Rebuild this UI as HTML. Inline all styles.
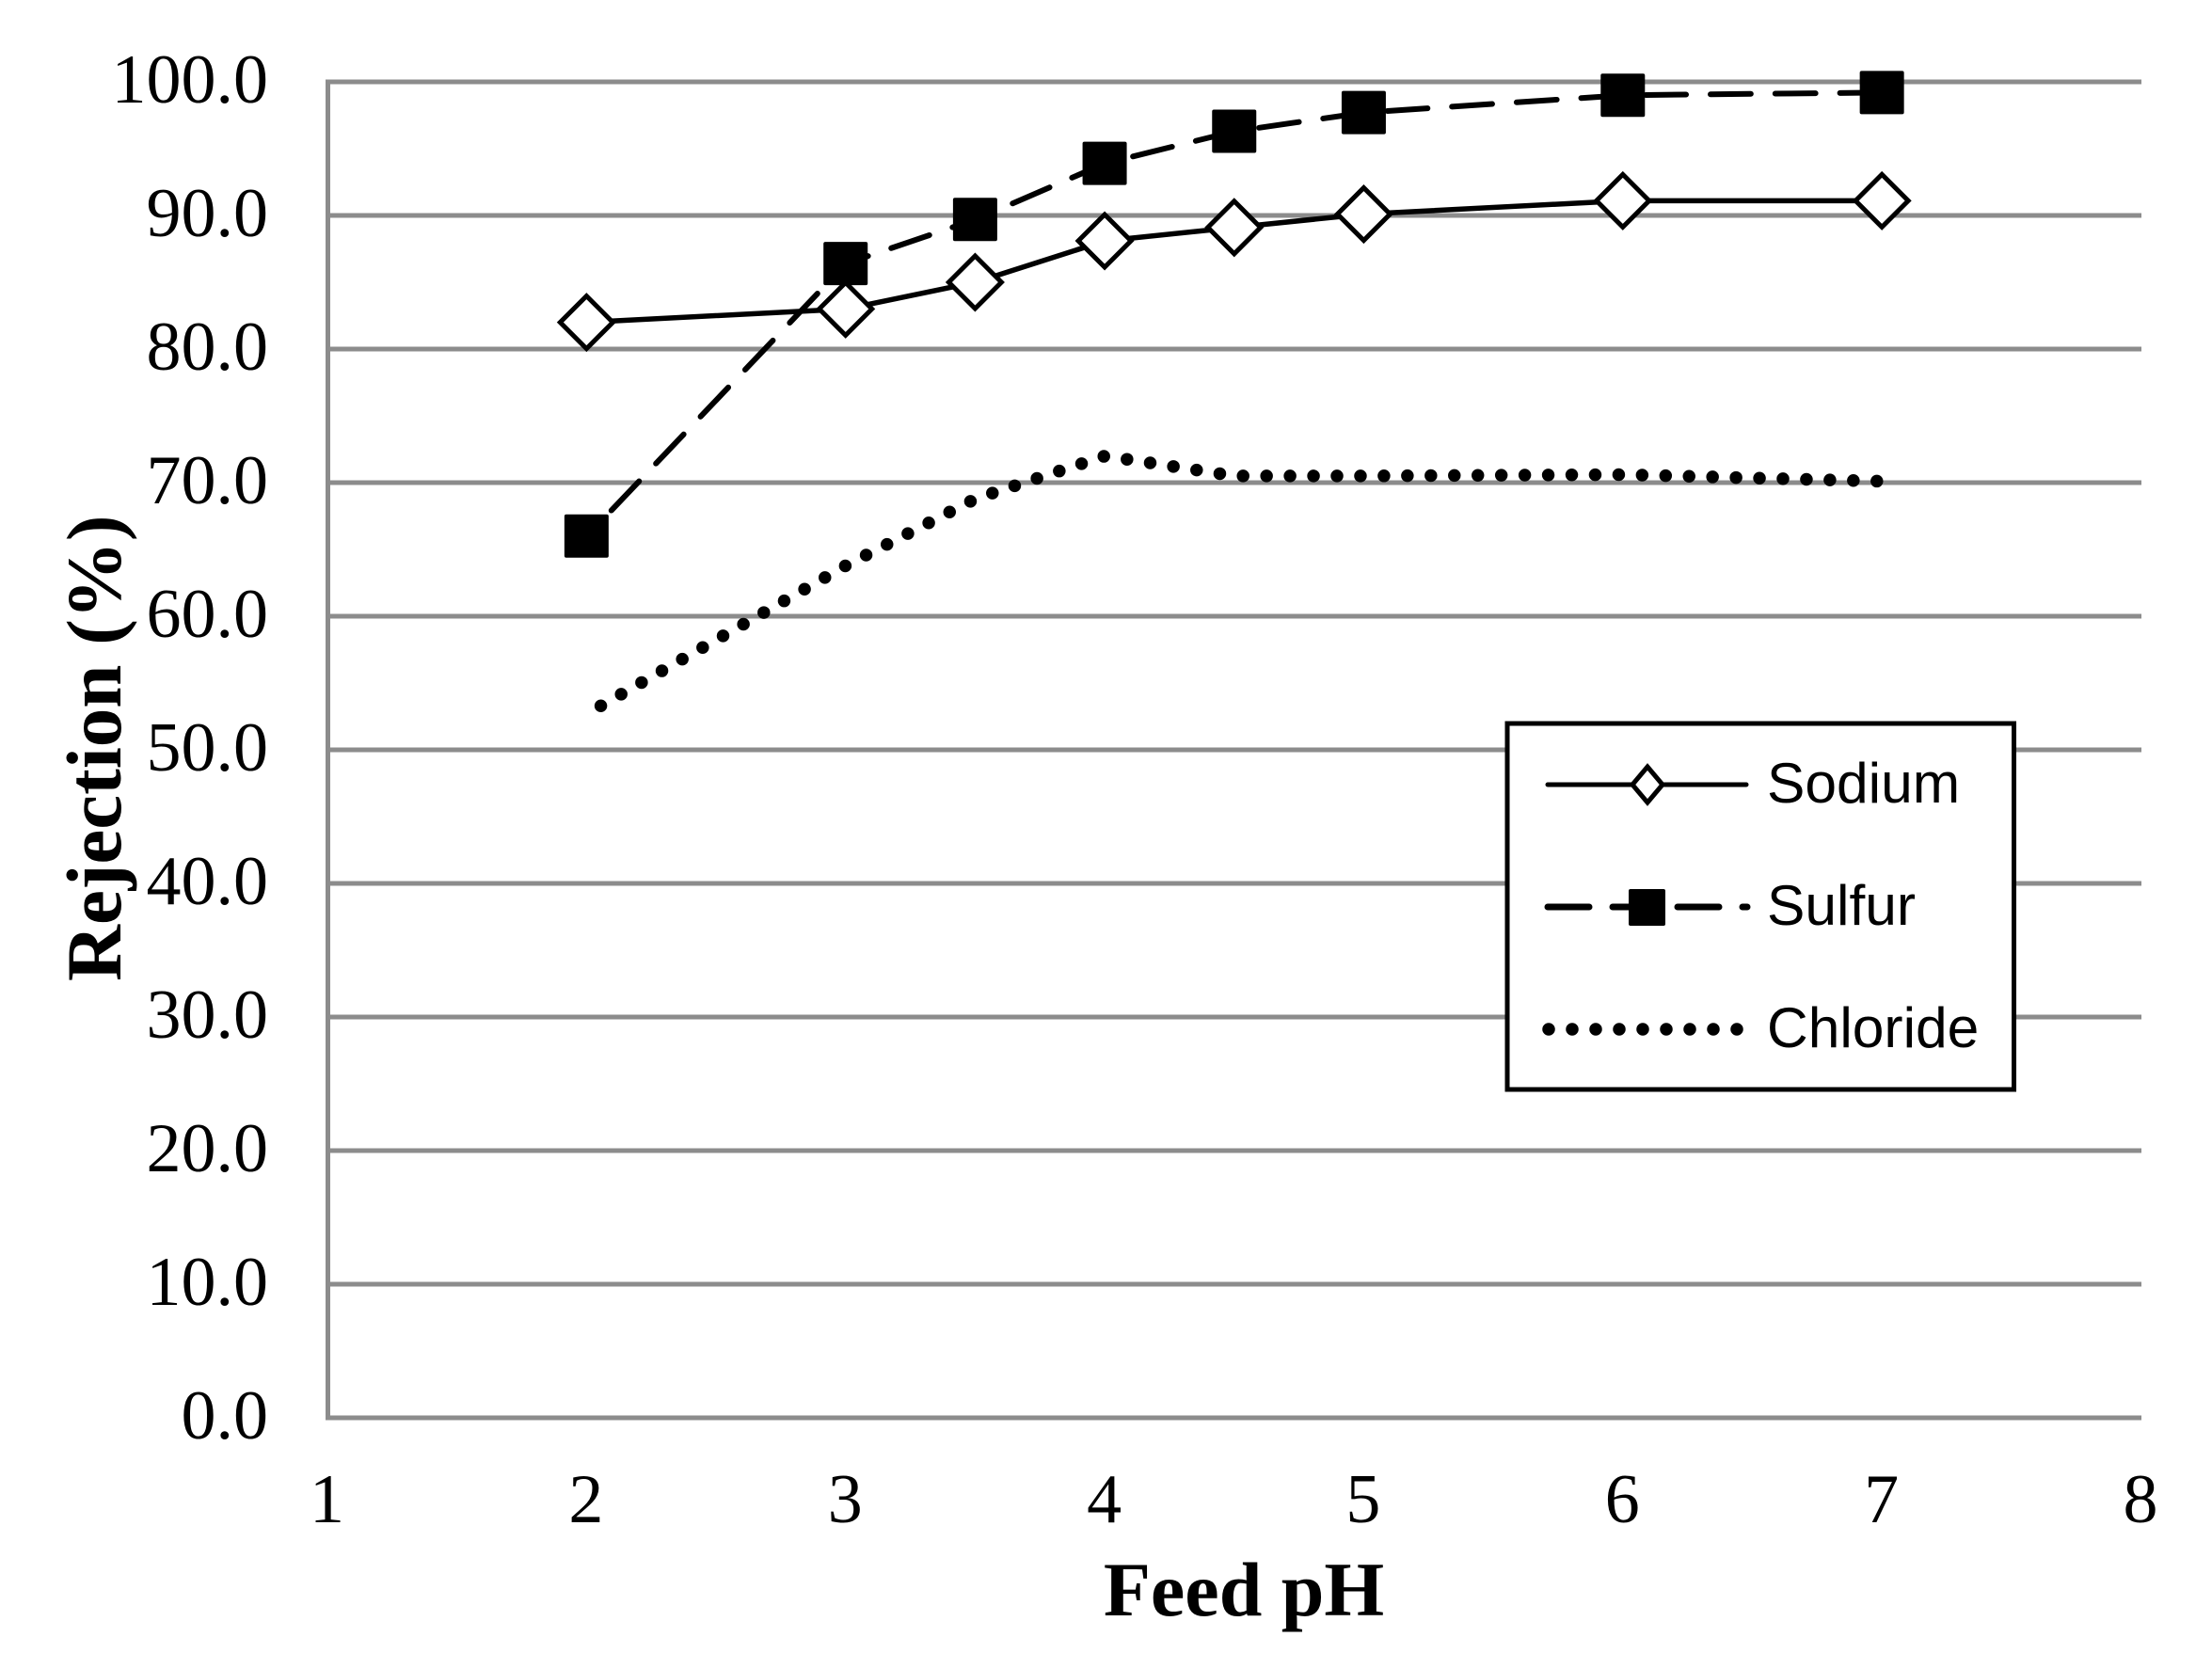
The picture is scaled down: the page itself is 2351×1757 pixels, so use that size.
<!DOCTYPE html>
<html lang="en">
<head>
<meta charset="utf-8">
<title>Rejection vs Feed pH</title>
<style>
html,body{margin:0;padding:0;background:#fff;}
svg{display:block;}
text{fill:#000;}
.serif{font-family:"Liberation Serif",serif;}
.sans{font-family:"Liberation Sans",sans-serif;}
</style>
</head>
<body>
<svg id="chart" xmlns="http://www.w3.org/2000/svg" width="2351" height="1757" viewBox="0 0 2351 1757">
  <rect x="0" y="0" width="2351" height="1757" fill="#fff"/>
  <g id="grid"></g>
  <g id="ticks"></g>
  <g id="series"></g>
  <text class="serif" font-weight="bold" font-size="83" transform="translate(128 1043) rotate(-90)">Rejection (%)</text>
  <text class="serif" font-weight="bold" font-size="82" x="1322" y="1717" text-anchor="middle">Feed pH</text>
  <g>
    <rect x="1602" y="769" width="538.5" height="389" fill="#fff" stroke="#000" stroke-width="5"/>
    <g>
      <line x1="1645" y1="834" x2="1856" y2="834" stroke="#000" stroke-width="5" stroke-linecap="round"/>
      <polygon points="1751,817 1767,836 1751,855 1735,836" transform="translate(0 -2)" fill="#fff" stroke="#000" stroke-width="5"/>
      <text class="sans" font-size="60.5" x="1878" y="853">Sodium</text>
    </g>
    <g>
      <line x1="1645" y1="964" x2="1857" y2="964" stroke="#000" stroke-width="7" stroke-linecap="round" stroke-dasharray="44 25"/>
      <rect x="1731" y="945" width="39" height="39" rx="2" fill="#000"/>
      <text class="sans" font-size="60.5" x="1878" y="983">Sulfur</text>
    </g>
    <g>
      <line x1="1646" y1="1094" x2="1847" y2="1094" stroke="#000" stroke-width="13.5" stroke-linecap="round" stroke-dasharray="0 25"/>
      <text class="sans" font-size="60.5" x="1878" y="1113">Chloride</text>
    </g>
  </g>
</svg>
<script>
var phValues = [2, 3, 3.5, 4, 4.5, 5, 6, 7];
var sodiumValues = [82.0, 83.0, 85.0, 88.1, 89.1, 90.1, 91.1, 91.1];
var sulfurValues = [66.0, 86.4, 89.7, 93.9, 96.3, 97.7, 99.0, 99.2];
var chlorideValues = [52.7, 63.8, 68.8, 72.0, 70.5, 70.5, 70.6, 70.1];
var yTickValues = [0, 10, 20, 30, 40, 50, 60, 70, 80, 90, 100];
var yTickLabels = ['0.0', '10.0', '20.0', '30.0', '40.0', '50.0', '60.0', '70.0', '80.0', '90.0', '100.0'];
var xTickValues = [1, 2, 3, 4, 5, 6, 7, 8];
var xTickLabels = ['1', '2', '3', '4', '5', '6', '7', '8'];

var NS = 'http://www.w3.org/2000/svg';
var plotLeft = 348.5, plotRight = 2276, plotTop = 87, plotBottom = 1507;
function xScale(v) { return plotLeft + (v - 1) / 7 * (plotRight - plotLeft); }
function yScale(v) { return plotBottom - v / 100 * (plotBottom - plotTop); }
function make(tag, attrs) {
  var el = document.createElementNS(NS, tag);
  for (var k in attrs) { el.setAttribute(k, attrs[k]); }
  return el;
}
function pathFor(values) {
  return values.map(function (v, i) {
    return (i ? 'L' : 'M') + xScale(phValues[i]).toFixed(2) + ' ' + yScale(v).toFixed(2);
  }).join(' ');
}

var gridGroup = document.getElementById('grid');
yTickValues.forEach(function (v) {
  var line = make('line', { x1: plotLeft - 2.5, x2: plotRight, y1: yScale(v), y2: yScale(v), stroke: '#8c8c8c', 'stroke-width': 5 });
  
  
  gridGroup.appendChild(line);
});
var yAxisLine = make('line', { x1: plotLeft, x2: plotLeft, y1: plotTop - 2.5, y2: plotBottom + 2.5, stroke: '#8c8c8c', 'stroke-width': 5 });


gridGroup.appendChild(yAxisLine);

var tickGroup = document.getElementById('ticks');
yTickValues.forEach(function (v, i) {
  var t = make('text', { x: 285, y: yScale(v) + 22, 'text-anchor': 'end', 'font-size': 74, 'class': 'serif' });
  
  
  t.textContent = yTickLabels[i];
  tickGroup.appendChild(t);
});
xTickValues.forEach(function (v, i) {
  var t = make('text', { x: xScale(v) - 1, y: 1618, 'text-anchor': 'middle', 'font-size': 74, 'class': 'serif' });
  
  
  t.textContent = xTickLabels[i];
  tickGroup.appendChild(t);
});

var seriesGroup = document.getElementById('series');

var sodiumLine = make('path', { d: pathFor(sodiumValues), fill: 'none', stroke: '#000', 'stroke-width': 5.5, 'stroke-linejoin': 'round' });


seriesGroup.appendChild(sodiumLine);
sodiumValues.forEach(function (v, i) {
  var cx = xScale(phValues[i]) - 0.5, cy = yScale(v), r = 28;
  var d = make('polygon', {
    points: cx + ',' + (cy - r) + ' ' + (cx + r) + ',' + cy + ' ' + cx + ',' + (cy + r) + ' ' + (cx - r) + ',' + cy,
    fill: '#fff', stroke: '#000', 'stroke-width': 5
  });
  
  
  seriesGroup.appendChild(d);
});

var sulfurLine = make('path', { d: pathFor(sulfurValues), fill: 'none', stroke: '#000', 'stroke-width': 6, 'stroke-linecap': 'round', 'stroke-dasharray': '42.8 26', 'stroke-dashoffset': 31.2 });


seriesGroup.appendChild(sulfurLine);
sulfurValues.forEach(function (v, i) {
  var s = make('rect', { x: xScale(phValues[i]) - 24, y: yScale(v) - 23, width: 47, height: 46, rx: 2, fill: '#000' });
  
  
  seriesGroup.appendChild(s);
});

var chlorideLine = make('path', { d: pathFor(chlorideValues), fill: 'none', stroke: '#000', 'stroke-width': 13.5, 'stroke-linecap': 'round', 'stroke-dasharray': '0 24.95', 'stroke-dashoffset': 8 });


seriesGroup.appendChild(chlorideLine);
</script>
</body>
</html>
